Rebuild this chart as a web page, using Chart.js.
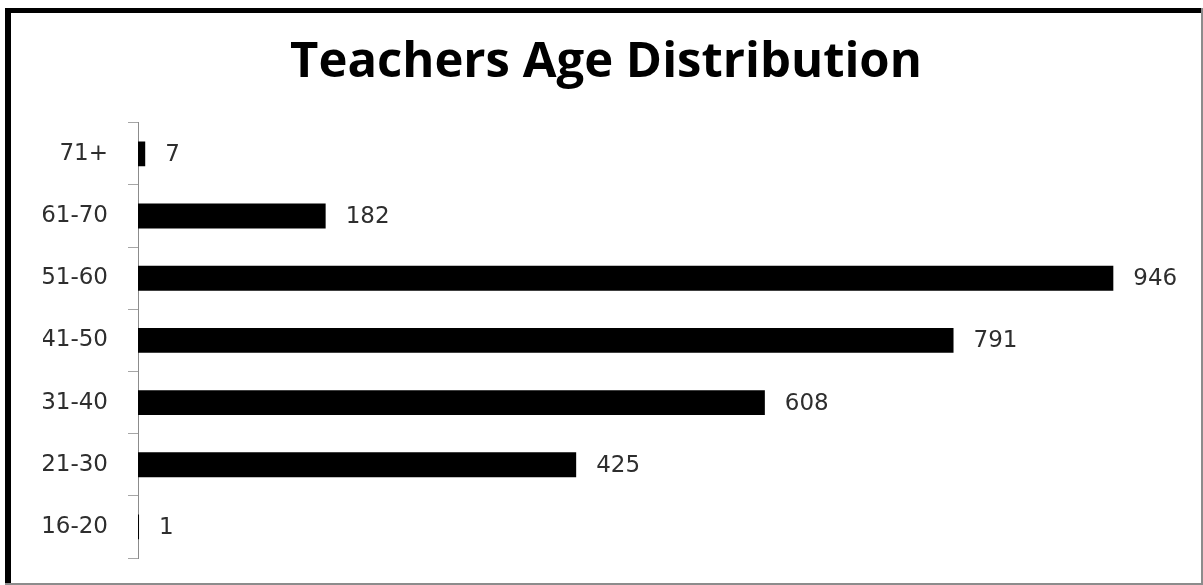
<!DOCTYPE html>
<html>
<head>
<meta charset="utf-8">
<title>Teachers Age Distribution</title>
<script src="https://cdn.jsdelivr.net/npm/chart.js@4/dist/chart.umd.min.js"></script>
<style>
  html, body { margin: 0; padding: 0; background: #fff; }
  #wrap { position: relative; width: 1203px; height: 585px; }
</style>
</head>
<body>
<div id="wrap"><canvas id="chart" width="1203" height="585"></canvas></div>
<script>
// Age bands, youngest first (the axis is reversed so 16-20 sits at the bottom)
const ageBands = ['16-20', '21-30', '31-40', '41-50', '51-60', '61-70', '71+'];
// Number of teachers in each band
const teacherCounts = [1, 425, 608, 791, 946, 182, 7];
const chartTitle = 'Teachers Age Distribution';
const axisMax = 1000;

// Frame around the whole picture: heavy black top/left, thin grey right/bottom
const framePlugin = {
  id: 'frame',
  beforeDraw(chart) {
    const ctx = chart.ctx;
    ctx.save();
    ctx.fillStyle = '#ffffff';
    ctx.fillRect(0, 0, chart.width, chart.height);
    ctx.restore();
  },
  afterDraw(chart) {
    const ctx = chart.ctx;
    ctx.save();
    ctx.fillStyle = '#000';
    ctx.fillRect(5, 8, chart.width - 6, 5);
    ctx.fillRect(5, 8, 6, chart.height - 8);
    ctx.fillStyle = '#8c8c8c';
    ctx.fillRect(chart.width - 2, 8, 2, chart.height - 8);
    ctx.fillRect(5, chart.height - 2, chart.width - 5, 2);
    ctx.restore();
  }
};

// Count printed just past the end of every bar
const barValuePlugin = {
  id: 'barValues',
  afterDatasetsDraw(chart) {
    const ctx = chart.ctx;
    ctx.save();
    ctx.font = '23px "DejaVu Sans"';
    ctx.fillStyle = '#2e2e2e';
    ctx.textAlign = 'left';
    ctx.textBaseline = 'middle';
    chart.data.datasets.forEach((ds, di) => {
      chart.getDatasetMeta(di).data.forEach((bar, i) => {
        ctx.fillText(String(ds.data[i]), bar.x + 20, bar.y + 1);
      });
    });
    ctx.restore();
  }
};

new Chart(document.getElementById('chart'), {
  type: 'bar',
  data: {
    labels: ageBands,
    datasets: [{
      data: teacherCounts,
      backgroundColor: '#000',
      borderWidth: 0,
      barPercentage: 0.4,
      categoryPercentage: 1.0
    }]
  },
  options: {
    indexAxis: 'y',
    responsive: false,
    animation: false,
    events: [],
    layout: { padding: { top: 8, left: 43, right: 34, bottom: 27 } },
    plugins: {
      legend: { display: false },
      tooltip: { enabled: false },
      title: {
        display: true,
        text: chartTitle,
        color: '#000',
        font: { family: '"Open Sans"', size: 49, weight: 'bold', lineHeight: 1.2 },
        padding: { top: 26, bottom: 30 }
      }
    },
    scales: {
      x: { display: false, min: 0, max: axisMax },
      y: {
        reverse: true,
        afterFit(scale) {
          scale.width = 95;
          // the end labels sit inside their bands, so no extra room is needed above/below
          scale.paddingTop = 0;
          scale.paddingBottom = 0;
        },
        border: { display: true, color: '#8c8c8c', width: 1 },
        grid: {
          offset: true,
          drawOnChartArea: false,
          drawTicks: true,
          tickLength: 10,
          color: '#a6a6a6'
        },
        ticks: {
          color: '#2e2e2e',
          padding: 20,
          font: { family: '"DejaVu Sans"', size: 23 }
        }
      }
    }
  },
  plugins: [framePlugin, barValuePlugin]
});
</script>
</body>
</html>
